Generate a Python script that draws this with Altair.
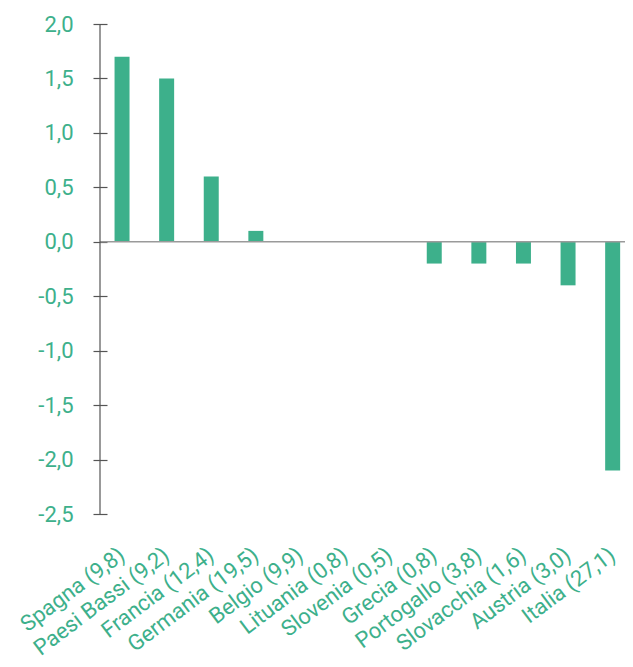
import altair as alt
import pandas as pd

countries = ["Spagna (9,8)", "Paesi Bassi (9,2)", "Francia (12,4)", "Germania (19,5)",
             "Belgio (9,9)", "Lituania (0,8)", "Slovenia (0,5)", "Grecia (0,8)",
             "Portogallo (3,8)", "Slovacchia (1,6)", "Austria (3,0)", "Italia (27,1)"]
values = [1.7, 1.5, 0.6, 0.1, 0.0, 0.0, 0.0, -0.2, -0.2, -0.2, -0.4, -2.1]
y_ticks = [2.0, 1.5, 1.0, 0.5, 0.0, -0.5, -1.0, -1.5, -2.0, -2.5]

GREEN = "#3db08b"
df = pd.DataFrame({"paese": countries, "valore": values})

yscale = alt.Scale(domain=[-2.5, 2.0], nice=False, zero=False)
label_expr = "(datum.value < 0 ? '-' : '') + replace(format(abs(datum.value), '.1f'), '.', ',')"

bars = alt.Chart(df).mark_bar(color=GREEN).encode(
    x=alt.X("paese:N", sort=None, title=None,
            scale=alt.Scale(paddingInner=0.664, paddingOuter=0.2175, align=0.75),
            axis=alt.Axis(labelAngle=-37, labelAlign="right", labelBaseline="middle",
                          labelPadding=38, domain=False, ticks=False,
                          labelFont="Roboto", labelFontSize=22, labelColor=GREEN,
                          labelLimit=300)),
    y=alt.Y("valore:Q", scale=yscale, title=None,
            axis=alt.Axis(values=y_ticks, labelExpr=label_expr, offset=-7,
                          domain=False, tickSize=14, tickColor="#555555", tickWidth=1.2,
                          grid=False, labelFont="Roboto", labelFontSize=22,
                          labelColor=GREEN, labelPadding=20)),
)

zero = alt.Chart(pd.DataFrame({"z": [0.0]})).mark_rule(color="#9a9a9a", strokeWidth=1.5).encode(
    y=alt.Y("z:Q", scale=yscale)
)

yline = alt.Chart(pd.DataFrame({"a": [2.0], "b": [-2.5]})).mark_rule(color="#555555", strokeWidth=1.2).encode(
    x=alt.value(0), y=alt.Y("a:Q", scale=yscale), y2="b:Q"
)

chart = alt.layer(bars, zero, yline).properties(
    width=525, height=490,
    autosize=alt.AutoSizeParams(type="none"),
    padding={"left": 92, "top": 16, "right": 0, "bottom": 145},
).configure_view(stroke=None)

chart.save("out.html", embed_options={"renderer": "svg", "actions": False})
